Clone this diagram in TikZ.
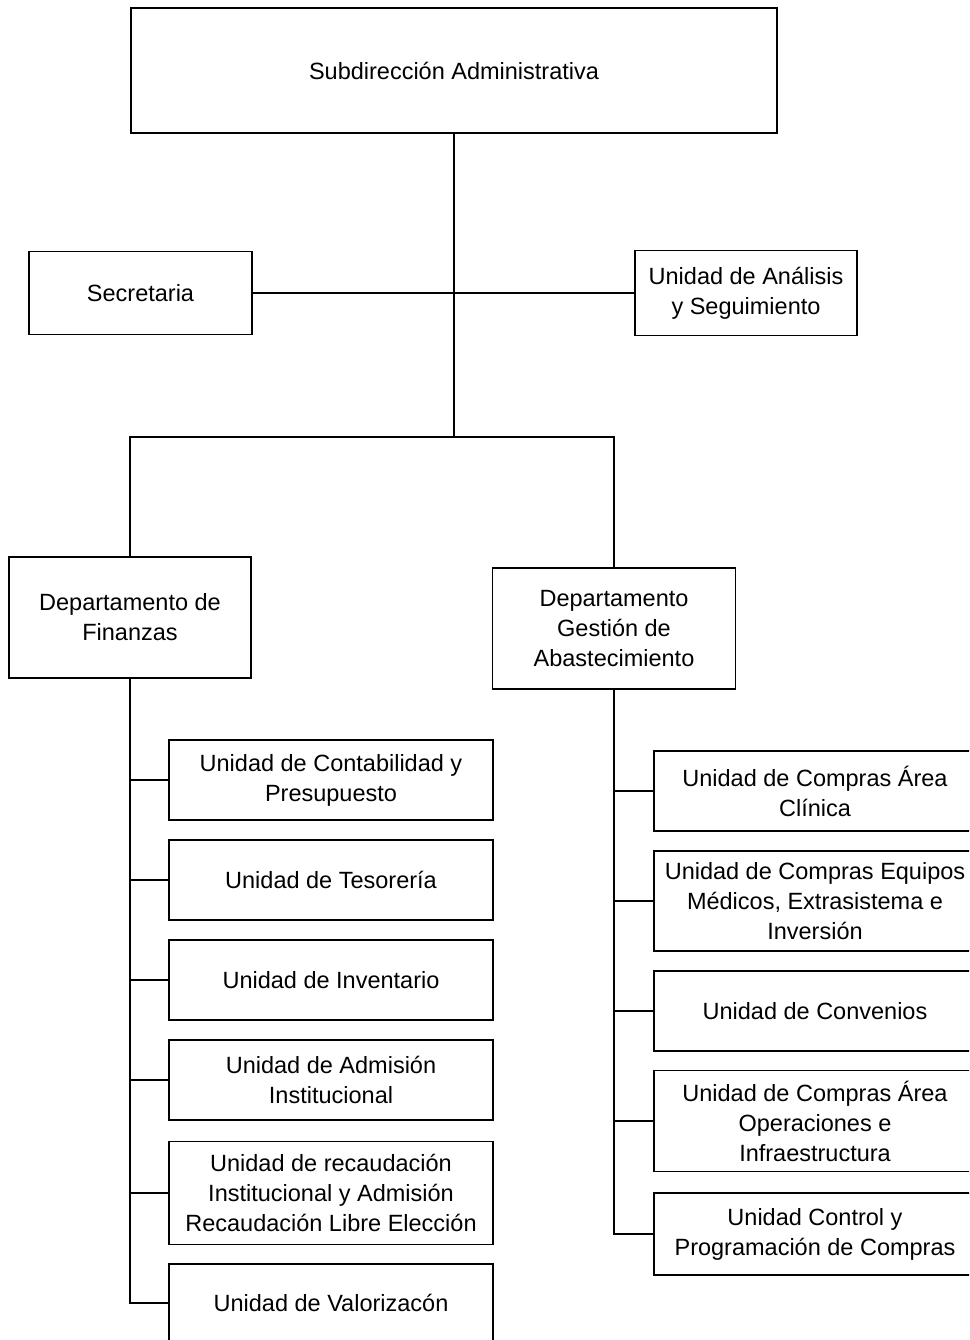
\documentclass[tikz,border=0pt]{standalone}
\usepackage{fontspec}
\setmainfont{Liberation Sans}
\begin{document}
\begin{tikzpicture}[x=1pt,y=-1pt,
  box/.style={draw, line width=1.4pt, inner sep=0pt, align=center, font=\fontsize{23.5}{30}\selectfont},
  conn/.style={line width=1.4pt}]
\useasboundingbox (0,0) rectangle (969,1340);
\clip (0,0) rectangle (969,1340);
% top level
\node[box, minimum width=646pt, minimum height=125pt] (top) at (454,70.5) {Subdirección Administrativa};
\node[box, minimum width=223pt, minimum height=83pt] (sec) at (140.5,293) {Secretaria};
\node[box, minimum width=222pt, minimum height=85pt] (uas) at (746,293) {Unidad de Análisis\\y Seguimiento};
% departments
\node[box, minimum width=242pt, minimum height=121pt] (fin) at (130,617.5) {Departamento de\\Finanzas};
\node[box, minimum width=243pt, minimum height=121pt] (abs) at (614,628.5) {Departamento\\Gestión de\\Abastecimiento};
% left units
\node[box, minimum width=324pt, minimum height=80pt] (c1) at (331,780) {Unidad de Contabilidad y\\Presupuesto};
\node[box, minimum width=324pt, minimum height=80pt] (c2) at (331,880) {Unidad de Tesorería};
\node[box, minimum width=324pt, minimum height=80pt] (c3) at (331,980) {Unidad de Inventario};
\node[box, minimum width=324pt, minimum height=80pt] (c4) at (331,1080) {Unidad de Admisión\\Institucional};
\node[box, minimum width=324pt, minimum height=103pt] (c5) at (331,1193) {Unidad de recaudación\\Institucional y Admisión\\Recaudación Libre Elección};
\node[box, minimum width=324pt, minimum height=78pt] (c6) at (331,1303) {Unidad de Valorizacón};
% right units
\node[box, minimum width=322pt, minimum height=80pt] (r1) at (815,791) {Unidad de Compras Área\\Clínica};
\node[box, minimum width=322pt, minimum height=100pt] (r2) at (815,901) {Unidad de Compras Equipos\\Médicos, Extrasistema e\\Inversión};
\node[box, minimum width=322pt, minimum height=80pt] (r3) at (815,1011) {Unidad de Convenios};
\node[box, minimum width=322pt, minimum height=101pt] (r4) at (815,1121) {Unidad de Compras Área\\Operaciones e\\Infraestructura};
\node[box, minimum width=322pt, minimum height=82pt] (r5) at (815,1234) {Unidad Control y\\Programación de Compras};
% connectors
\coordinate (j1) at (454,437);
\draw[conn] (top.south) -- (j1);
\draw[conn] (sec.east) -- (uas.west);
\draw[conn] (j1) -| (fin.north);
\draw[conn] (j1) -| (abs.north);
\draw[conn] (fin.south) |- (c6.west);
\foreach \n in {c1,c2,c3,c4,c5} \draw[conn] (fin.south |- \n.west) -- (\n.west);
\draw[conn] (abs.south) |- (r5.west);
\foreach \n in {r1,r2,r3,r4} \draw[conn] (abs.south |- \n.west) -- (\n.west);
\end{tikzpicture}
\end{document}
